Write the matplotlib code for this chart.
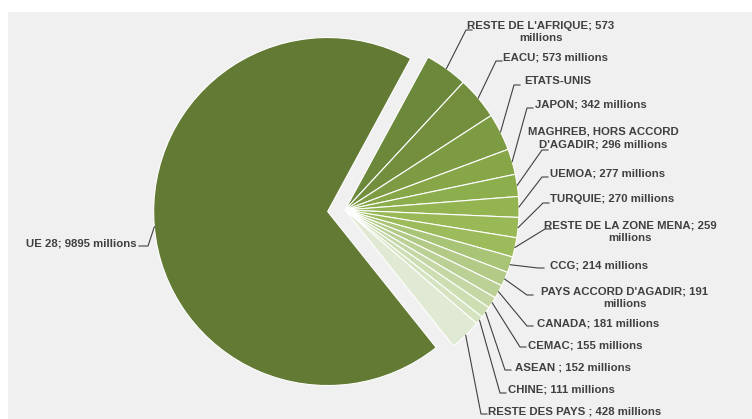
import numpy as np
import matplotlib
matplotlib.use('Agg')
from matplotlib import pyplot as plt
from matplotlib.patches import Rectangle

plt.rcParams['font.family'] = ['Liberation Sans', 'DejaVu Sans']

# population (millions) by zone, clockwise from the top
zones = ["RESTE DE L'AFRIQUE", "EACU", "ETATS-UNIS", "JAPON",
         "MAGHREB, HORS ACCORD D'AGADIR", "UEMOA", "TURQUIE",
         "RESTE DE LA ZONE MENA", "CCG", "PAYS ACCORD D'AGADIR", "CANADA",
         "CEMAC", "ASEAN ", "CHINE", "RESTE DES PAYS ", "UE 28"]
values = [573, 573, 500, 342, 296, 277, 270, 259, 214, 191, 181, 155, 152,
          111, 428, 9895]
labels = ["RESTE DE L'AFRIQUE; 573\nmillions", "EACU; 573 millions", "ETATS-UNIS",
          "JAPON; 342 millions", "MAGHREB, HORS ACCORD\nD'AGADIR; 296 millions",
          "UEMOA; 277 millions", "TURQUIE; 270 millions",
          "RESTE DE LA ZONE MENA; 259\nmillions", "CCG; 214 millions",
          "PAYS ACCORD D'AGADIR; 191\nmillions", "CANADA; 181 millions",
          "CEMAC; 155 millions", "ASEAN ; 152 millions", "CHINE; 111 millions",
          "RESTE DES PAYS ; 428 millions", "UE 28; 9895 millions"]
colors = ['#6b883b', '#738f3e', '#7d9b43', '#86a648', '#8dae4d', '#93b451',
          '#98b956', '#9cbc5b', '#a8c476', '#b2ca86', '#bbd095', '#c4d7a4',
          '#cddeb3', '#d5e3c0', '#e0e9d3', '#627a33']

# label layout in pixels: text anchor, elbow of leader line
text_px = [(541, 32), (503, 57), (524, 81), (535, 104), (603, 138), (550, 173),
           (550, 199), (630, 232), (550, 265), (625, 298), (537, 323),
           (528, 345), (515, 367), (508, 389), (488, 411), (137, 243)]
elbow_px = [(466, 30), (496, 61), (514, 85), (527, 108), (542, 150), (542, 177),
            (543, 203), (545, 229), (538, 268), (527, 295), (527, 326),
            (520, 347), (505, 370), (500, 393), (481, 414), (148, 246)]

W, H = 752, 419
CX, CY, R = 345, 210, 174
FS = 8.2


def to_data(p):
    return (p[0] - CX) / R, (CY - p[1]) / R


fig = plt.figure(figsize=(W / 100, H / 100), dpi=100)
fig.patch.set_facecolor('white')
fig.add_artist(Rectangle((8 / W, 0), 1, 1 - 12 / H, transform=fig.transFigure,
                         facecolor='#f0f0f0', edgecolor='none', zorder=0))
ax = fig.add_axes([0, 0, 1, 1])
ax.set_facecolor('none')

explode = [0] * (len(values) - 1) + [0.1]
wedges, _ = ax.pie(values, colors=colors, startangle=61.5, counterclock=False,
                   explode=explode, radius=1,
                   wedgeprops=dict(edgecolor='white', linewidth=0.8))

for w, lab, tp, ep in zip(wedges, labels, text_px, elbow_px):
    ang = np.deg2rad((w.theta1 + w.theta2) / 2)
    cx, cy = w.center
    start = (cx + np.cos(ang), cy + np.sin(ang))
    ex, ey = to_data(ep)
    tx, ty = to_data(tp)
    left = tx > 0
    hx = ex + (6 / R if left else -9 / R)
    ax.plot([start[0], ex, hx], [start[1], ey, ey], color='#404040', lw=0.8)
    if '\n' in lab:
        ax.text(tx, ty, lab, ha='center', va='center', multialignment='center',
                fontsize=FS, fontweight='bold', color='#404040', linespacing=1.3)
    else:
        ax.text(tx, ty, lab, ha='left' if left else 'right', va='center',
                fontsize=FS, fontweight='bold', color='#404040')

ax.set_xlim(-CX / R, (W - CX) / R)
ax.set_ylim(-(H - CY) / R, CY / R)
ax.set_aspect('auto')
ax.axis('off')

fig.savefig('out.png', dpi=100)
